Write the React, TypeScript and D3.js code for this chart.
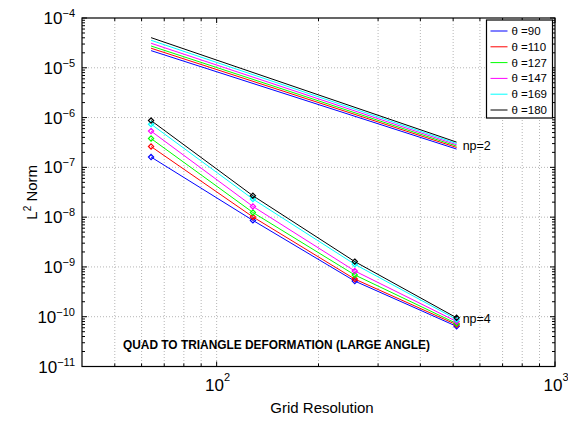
import React from "react";
import * as d3 from "d3";

const W = 568;
const H = 421;
const margin = { left: 82, right: 13, top: 18, bottom: 54.5 };

const gridX = [64, 128, 256, 512];
const np2X = [64, 512];
const thetas = ["90", "110", "127", "147", "169", "180"];
const colors = ["#0000ff", "#ff0000", "#00ff00", "#ff00ff", "#00ffff", "#000000"];

// np=2 values at x = 64 and 512
const np2_90 = [2.21e-5, 2.33e-7];
const np2_110 = [2.47e-5, 2.51e-7];
const np2_127 = [2.74e-5, 2.67e-7];
const np2_147 = [3.11e-5, 2.84e-7];
const np2_169 = [3.57e-5, 3.01e-7];
const np2_180 = [4.03e-5, 3.21e-7];

// np=4 values at x = 64, 128, 256, 512
const np4_90 = [1.61e-7, 8.6e-9, 5.2e-10, 6.4e-11];
const np4_110 = [2.62e-7, 1.01e-8, 5.7e-10, 6.9e-11];
const np4_127 = [3.79e-7, 1.24e-8, 6.9e-10, 7.3e-11];
const np4_147 = [5.35e-7, 1.64e-8, 8.3e-10, 8.0e-11];
const np4_169 = [7.38e-7, 2.31e-8, 1.13e-9, 8.8e-11];
const np4_180 = [8.71e-7, 2.69e-8, 1.28e-9, 9.5e-11];

const np2Series = [np2_90, np2_110, np2_127, np2_147, np2_169, np2_180];
const np4Series = [np4_90, np4_110, np4_127, np4_147, np4_169, np4_180];

const xDomain = [40, 1000];
const yDomain = [1e-11, 1e-4];
const xMajor = [100, 1000];
const xMajorExp = ["2", "3"];
const yExps = [-11, -10, -9, -8, -7, -6, -5, -4];

const FONT = "'Liberation Sans', Arial, Helvetica, sans-serif";

export default function App() {
  const x = d3.scaleLog().domain(xDomain).range([margin.left, W - margin.right]);
  const y = d3.scaleLog().domain(yDomain).range([H - margin.bottom, margin.top]);
  const x0 = margin.left, x1 = W - margin.right, y0 = H - margin.bottom, y1 = margin.top;

  const xMinor: number[] = [];
  [10, 100].forEach((d) => {
    for (let k = 2; k <= 9; k++) {
      const v = d * k;
      if (v > xDomain[0] && v < xDomain[1] && v !== 100) xMinor.push(v);
    }
  });
  const yMinor: number[] = [];
  for (let e = -11; e < -4; e++) {
    for (let k = 2; k <= 9; k++) yMinor.push(k * Math.pow(10, e));
  }

  const line = d3
    .line<[number, number]>()
    .x((d) => x(d[0]))
    .y((d) => y(d[1]));

  const diamond = (cx: number, cy: number, r: number) =>
    `M${cx},${cy - r}L${cx + r},${cy}L${cx},${cy + r}L${cx - r},${cy}Z`;

  const legendX = 486.5, legendY = 20, legendW = 66, legendH = 98;

  return (
    <svg
      width={W}
      height={H}
      style={{ position: "fixed", left: 0, top: 0, background: "#fff" }}
      fontFamily={FONT}
    >
      <rect x={0} y={0} width={W} height={H} fill="#fff" />
      {/* grid */}
      <g stroke="#b5b5b5" strokeWidth={1} strokeDasharray="1,2">
        {[...xMinor, ...xMajor.filter((v) => v < xDomain[1])].map((v, i) => (
          <line key={"gx" + i} x1={x(v)} x2={x(v)} y1={y1} y2={y0} />
        ))}
        {yExps.slice(1, -1).map((e, i) => (
          <line key={"gy" + i} x1={x0} x2={x1} y1={y(Math.pow(10, e))} y2={y(Math.pow(10, e))} />
        ))}
      </g>
      {/* ticks */}
      <g stroke="#000" strokeWidth={1}>
        {xMinor.map((v, i) => (
          <g key={"xt" + i}>
            <line x1={x(v)} x2={x(v)} y1={y0} y2={y0 - 3} />
            <line x1={x(v)} x2={x(v)} y1={y1} y2={y1 + 3} />
          </g>
        ))}
        {xMajor.map((v, i) => (
          <g key={"xM" + i}>
            <line x1={x(v)} x2={x(v)} y1={y0} y2={y0 - 5} />
            <line x1={x(v)} x2={x(v)} y1={y1} y2={y1 + 5} />
          </g>
        ))}
        {yMinor.map((v, i) => (
          <g key={"yt" + i}>
            <line x1={x0} x2={x0 + 3} y1={y(v)} y2={y(v)} />
            <line x1={x1} x2={x1 - 3} y1={y(v)} y2={y(v)} />
          </g>
        ))}
        {yExps.map((e, i) => (
          <g key={"yM" + i}>
            <line x1={x0} x2={x0 + 5} y1={y(Math.pow(10, e))} y2={y(Math.pow(10, e))} />
            <line x1={x1} x2={x1 - 5} y1={y(Math.pow(10, e))} y2={y(Math.pow(10, e))} />
          </g>
        ))}
      </g>
      {/* data lines np=2 */}
      {np2Series.map((s, i) => (
        <path
          key={"n2" + i}
          d={line(np2X.map((xv, j) => [xv, s[j]] as [number, number])) || ""}
          fill="none"
          stroke={colors[i]}
          strokeWidth={1}
        />
      ))}
      {/* data lines np=4 */}
      {np4Series.map((s, i) => (
        <g key={"n4" + i}>
          <path
            d={line(gridX.map((xv, j) => [xv, s[j]] as [number, number])) || ""}
            fill="none"
            stroke={colors[i]}
            strokeWidth={1}
          />
          {gridX.map((xv, j) => (
            <path
              key={j}
              d={diamond(x(xv), y(s[j]), 2.6)}
              fill="none"
              stroke={colors[i]}
              strokeWidth={1.2}
            />
          ))}
        </g>
      ))}
      {/* box */}
      <rect x={x0} y={y1} width={x1 - x0} height={y0 - y1} fill="none" stroke="#000" strokeWidth={1.2} />
      {/* y tick labels */}
      {yExps.map((e, i) => (
        <text key={"yl" + i} x={x0 - 7} y={y(Math.pow(10, e)) + 6} fontSize={17} textAnchor="end" fill="#000">
          10
          <tspan dy={-7} fontSize={11}>{"\u2212" + Math.abs(e)}</tspan>
        </text>
      ))}
      {/* x tick labels */}
      {xMajor.map((v, i) => (
        <text key={"xl" + i} x={x(v) + 1} y={y0 + 24} fontSize={17} textAnchor="middle" fill="#000">
          10
          <tspan dy={-10} fontSize={11}>{xMajorExp[i]}</tspan>
        </text>
      ))}
      {/* axis labels */}
      <text x={322} y={413} fontSize={15} textAnchor="middle" fill="#000">
        Grid Resolution
      </text>
      <text transform={`translate(37,${(y0 + y1) / 2}) rotate(-90)`} fontSize={15} textAnchor="middle" fill="#000">
        L<tspan dy={-6} fontSize={10}>2</tspan>
        <tspan dy={6}> Norm</tspan>
      </text>
      {/* annotations */}
      <text x={x(512) + 6} y={y(np2_180[1]) + 8} fontSize={12.5} fill="#000">np=2</text>
      <text x={x(512) + 6} y={y(np4_180[3]) + 5} fontSize={12.5} fill="#000">np=4</text>
      <text x={123} y={349} fontSize={11.9} fontWeight="bold" fill="#000">
        QUAD TO TRIANGLE DEFORMATION (LARGE ANGLE)
      </text>
      {/* legend */}
      <rect x={legendX} y={legendY} width={legendW} height={legendH} fill="#fff" stroke="#000" strokeWidth={1.2} />
      {thetas.map((t, i) => {
        const ly = legendY + 11 + i * 15.8;
        return (
          <g key={"lg" + i}>
            <line x1={legendX + 4} x2={legendX + 21} y1={ly} y2={ly} stroke={colors[i]} strokeWidth={1} />
            <text x={legendX + 25} y={ly + 4} fontSize={11.5} fill="#000">
              {"\u03b8 =" + t}
            </text>
          </g>
        );
      })}
    </svg>
  );
}
